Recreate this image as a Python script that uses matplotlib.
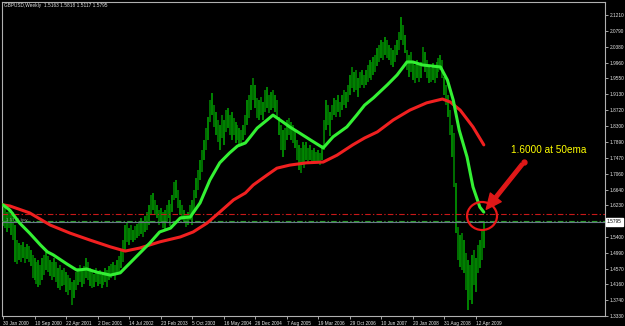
import numpy as np
import matplotlib
matplotlib.use("Agg")
import matplotlib.pyplot as plt
from matplotlib.patches import Ellipse, FancyArrowPatch
from matplotlib.transforms import blended_transform_factory

# GBPUSD weekly, Jan 2000 - mid 2009, one bar per 2 weeks
bar_high = [
    1.624, 1.618, 1.605, 1.610, 1.597, 1.605, 1.571, 1.532, 1.524, 1.519,
    1.527, 1.514, 1.522, 1.516, 1.506, 1.493, 1.485, 1.474, 1.480, 1.467,
    1.485, 1.493, 1.501, 1.490, 1.480, 1.474, 1.485, 1.474, 1.459, 1.467,
    1.453, 1.459, 1.448, 1.440, 1.432, 1.422, 1.427, 1.448, 1.459, 1.467,
    1.453, 1.464, 1.485, 1.474, 1.459, 1.453, 1.443, 1.459, 1.448, 1.453,
    1.440, 1.448, 1.459, 1.453, 1.464, 1.469, 1.474, 1.467, 1.480, 1.490,
    1.506, 1.532, 1.571, 1.579, 1.563, 1.571, 1.558, 1.568, 1.574, 1.579,
    1.589, 1.579, 1.594, 1.605, 1.624, 1.650, 1.655, 1.637, 1.624, 1.610,
    1.616, 1.605, 1.610, 1.624, 1.637, 1.626, 1.650, 1.684, 1.689, 1.663,
    1.637, 1.624, 1.610, 1.597, 1.605, 1.624, 1.637, 1.663, 1.694, 1.715,
    1.741, 1.768, 1.794, 1.825, 1.854, 1.898, 1.917, 1.885, 1.867, 1.846,
    1.833, 1.859, 1.846, 1.872, 1.877, 1.859, 1.867, 1.851, 1.841, 1.833,
    1.825, 1.820, 1.833, 1.859, 1.898, 1.912, 1.938, 1.956, 1.938, 1.903,
    1.898, 1.906, 1.893, 1.925, 1.932, 1.912, 1.919, 1.925, 1.912, 1.898,
    1.854, 1.833, 1.820, 1.825, 1.846, 1.851, 1.841, 1.833, 1.820, 1.794,
    1.781, 1.773, 1.788, 1.781, 1.788, 1.773, 1.781, 1.768, 1.773, 1.762,
    1.768, 1.760, 1.781, 1.846, 1.898, 1.885, 1.867, 1.885, 1.903, 1.898,
    1.912, 1.893, 1.912, 1.925, 1.919, 1.938, 1.964, 1.985, 1.972, 1.977,
    1.956, 1.972, 1.977, 1.964, 1.977, 1.990, 2.003, 1.998, 2.011, 2.016,
    2.034, 2.042, 2.056, 2.050, 2.063, 2.056, 2.042, 2.034, 2.029, 2.042,
    2.056, 2.076, 2.116, 2.095, 2.069, 2.029, 2.016, 2.024, 1.995, 1.990,
    2.003, 1.990, 1.998, 2.037, 2.024, 2.003, 1.990, 1.982, 1.995, 1.987,
    1.998, 2.008, 2.016, 2.003, 1.959, 1.938, 1.912, 1.872, 1.833, 1.812,
    1.681, 1.566, 1.545, 1.550, 1.532, 1.498, 1.480, 1.467, 1.493, 1.506,
    1.485, 1.519, 1.532, 1.558, 1.5818,
]
bar_low = [
    1.568, 1.563, 1.553, 1.563, 1.545, 1.532, 1.474, 1.469, 1.480, 1.474,
    1.485, 1.472, 1.482, 1.474, 1.464, 1.432, 1.427, 1.417, 1.409, 1.414,
    1.427, 1.440, 1.453, 1.448, 1.438, 1.427, 1.435, 1.422, 1.406, 1.401,
    1.412, 1.414, 1.396, 1.388, 1.401, 1.362, 1.380, 1.401, 1.414, 1.422,
    1.409, 1.417, 1.432, 1.427, 1.412, 1.406, 1.409, 1.422, 1.412, 1.417,
    1.406, 1.414, 1.422, 1.409, 1.427, 1.432, 1.438, 1.427, 1.443, 1.448,
    1.459, 1.474, 1.506, 1.527, 1.519, 1.532, 1.527, 1.532, 1.537, 1.542,
    1.548, 1.540, 1.553, 1.558, 1.571, 1.597, 1.610, 1.597, 1.589, 1.571,
    1.579, 1.563, 1.558, 1.579, 1.589, 1.568, 1.605, 1.637, 1.642, 1.616,
    1.597, 1.584, 1.579, 1.566, 1.571, 1.584, 1.571, 1.610, 1.642, 1.663,
    1.689, 1.710, 1.741, 1.768, 1.794, 1.841, 1.859, 1.828, 1.807, 1.788,
    1.768, 1.799, 1.781, 1.815, 1.825, 1.807, 1.794, 1.807, 1.786, 1.794,
    1.781, 1.786, 1.794, 1.807, 1.833, 1.851, 1.872, 1.898, 1.877, 1.851,
    1.846, 1.859, 1.846, 1.867, 1.877, 1.864, 1.872, 1.877, 1.867, 1.851,
    1.807, 1.768, 1.749, 1.768, 1.794, 1.807, 1.794, 1.786, 1.773, 1.741,
    1.715, 1.707, 1.728, 1.720, 1.741, 1.733, 1.741, 1.733, 1.736, 1.733,
    1.736, 1.728, 1.741, 1.768, 1.820, 1.833, 1.804, 1.846, 1.859, 1.854,
    1.867, 1.854, 1.872, 1.885, 1.877, 1.893, 1.912, 1.930, 1.919, 1.925,
    1.906, 1.930, 1.938, 1.930, 1.938, 1.946, 1.956, 1.951, 1.964, 1.972,
    1.987, 1.998, 2.008, 2.003, 2.016, 2.008, 2.003, 1.990, 1.985, 1.998,
    2.016, 2.029, 2.056, 2.042, 2.021, 1.977, 1.959, 1.972, 1.951, 1.943,
    1.956, 1.946, 1.956, 1.990, 1.972, 1.956, 1.943, 1.946, 1.951, 1.943,
    1.956, 1.972, 1.977, 1.956, 1.912, 1.885, 1.854, 1.807, 1.749, 1.671,
    1.550, 1.480, 1.461, 1.453, 1.446, 1.401, 1.349, 1.375, 1.364, 1.414,
    1.396, 1.446, 1.459, 1.480, 1.5117,
]
bar_week = np.arange(len(bar_high)) * 2  # weeks since 30 Jan 2000

# fast (green) and slow (red) moving averages
fast_week = [0, 7, 17, 27, 38, 45, 51, 65, 75, 85, 95, 109, 119, 129, 139, 149,
             159, 170, 180, 190, 200, 210, 220, 230, 238, 246, 251, 258, 268, 274,
             284, 291, 301, 312, 325, 335, 349, 359, 367, 376, 390, 400, 410, 416,
             426, 444, 451, 457, 463, 471, 477, 484, 488]
fast_ma = [1.624, 1.610, 1.576, 1.550, 1.519, 1.501, 1.493, 1.469, 1.453, 1.456,
           1.448, 1.440, 1.446, 1.472, 1.498, 1.524, 1.553, 1.563, 1.590, 1.592,
           1.629, 1.689, 1.734, 1.760, 1.778, 1.786, 1.802, 1.825, 1.846, 1.859,
           1.841, 1.828, 1.812, 1.794, 1.773, 1.802, 1.828, 1.859, 1.885, 1.904,
           1.938, 1.964, 1.998, 1.998, 1.990, 1.985, 1.951, 1.898, 1.820, 1.749,
           1.671, 1.618, 1.605]
slow_week = [0, 7, 27, 48, 68, 88, 109, 124, 139, 159, 180, 193, 207, 220, 234,
             246, 254, 268, 278, 291, 308, 325, 339, 355, 367, 380, 396, 413, 430,
             446, 454, 464, 477, 488]
slow_ma = [1.624, 1.621, 1.603, 1.571, 1.550, 1.532, 1.514, 1.503, 1.511, 1.527,
           1.540, 1.553, 1.576, 1.605, 1.637, 1.655, 1.676, 1.702, 1.720, 1.728,
           1.734, 1.736, 1.754, 1.781, 1.799, 1.815, 1.846, 1.872, 1.891, 1.901,
           1.893, 1.872, 1.828, 1.781]

level_1600 = 1.6000
order_level = 1.5812
bid = 1.5795

price_ticks = [2.1210, 2.0790, 2.0380, 1.9960, 1.9550, 1.9130, 1.8720, 1.8300,
               1.7890, 1.7470, 1.7060, 1.6640, 1.6230, 1.5400, 1.4990, 1.4570,
               1.4160, 1.3740, 1.3330]
date_week = [0, 32, 64, 96, 128, 160, 192, 224, 256, 288, 320, 352, 384, 416, 448, 480]
date_labels = ["30 Jan 2000", "10 Sep 2000", "22 Apr 2001", "2 Dec 2001",
               "14 Jul 2002", "23 Feb 2003", "5 Oct 2003", "16 May 2004",
               "26 Dec 2004", "7 Aug 2005", "19 Mar 2006", "29 Oct 2006",
               "10 Jun 2007", "20 Jan 2008", "31 Aug 2008", "12 Apr 2009"]

plt.rcParams['font.family'] = ['Liberation Sans', 'DejaVu Sans']

fig = plt.figure(figsize=(6.25, 3.26), dpi=100, facecolor='black')
ax = fig.add_axes([2 / 625, 10 / 326, 603 / 625, 314 / 326], facecolor='black')

# price bars
bar_colors = ['#00A800' if i % 2 == 0 else '#008C00' for i in range(len(bar_high))]
ax.vlines(bar_week, bar_low, bar_high, colors=bar_colors, linewidth=1.1, zorder=2)

# horizontal levels
ax.axhline(level_1600, color='#C81818', lw=0.8, dashes=(5, 2, 1.2, 2), zorder=2.5)
ax.axhline(bid, color='#6A7A8A', lw=0.8, zorder=2.5)
ax.axhline(order_level, color='#2E9A2E', lw=0.8, dashes=(5, 2, 1.2, 2), zorder=2.6)
ax.text(3, order_level - 0.002, "1.5795 buy", color='#9A9A9A', fontsize=3.2,
        va='bottom', ha='left', zorder=3)

# moving averages
ax.plot(slow_week, slow_ma, color='#F02020', lw=2.2, solid_capstyle='round', zorder=4)
ax.plot(fast_week, fast_ma, color='#33F033', lw=2.2, solid_capstyle='round', zorder=4.1)

ax.set_xlim(-1, 611)
ax.set_ylim(1.3330, 2.155)

# axes look (MT4 style)
for s in ax.spines.values():
    s.set_color('#B0B0B0')
    s.set_linewidth(0.8)
ax.yaxis.tick_right()
ax.set_yticks(price_ticks)
ax.set_yticklabels([f"{p:.4f}" for p in price_ticks])
ax.set_xticks(date_week)
ax.set_xticklabels(date_labels)
for lab in ax.get_xticklabels():
    lab.set_ha('left')
ax.tick_params(axis='y', direction='out', length=2, width=0.6, colors='#C0C0C0',
               labelsize=3.4, labelcolor='#E8E8E8', pad=1.5)
ax.tick_params(axis='x', direction='out', length=2, width=0.6, colors='#C0C0C0',
               labelsize=3.4, labelcolor='#E8E8E8', pad=1.5)

# current price box on the right axis
trans = blended_transform_factory(ax.transAxes, ax.transData)
ax.text(1.003, bid, f"{bid:.4f}", transform=trans, fontsize=3.4, color='black',
        ha='left', va='center', clip_on=False,
        bbox=dict(boxstyle='square,pad=0.25', fc='white', ec='white'))

# header
fig.text(4 / 625, 1 - 6 / 326, "GBPUSD,Weekly  1.5163 1.5818 1.5117 1.5795",
         color='#E0E0E0', fontsize=3.4, va='center', ha='left')

# annotation
ax.text(515.6, 1.7676, "1.6000 at 50ema", color='#FFFF00', fontsize=7.2,
        ha='left', va='center', zorder=6)
arrow = FancyArrowPatch((528.8, 1.7361), (488.7, 1.6066),
                        arrowstyle='simple,head_length=1.1,head_width=1.0,tail_width=0.25',
                        mutation_scale=10, color='#E01818', zorder=6)
ax.add_patch(arrow)
ax.plot([528.8], [1.7361], 'o', color='#E01818', ms=3.5, zorder=6)
ax.add_patch(Ellipse((486.2, 1.5948), 30.4, 0.0733, fill=False,
                     ec='#E81818', lw=1.6, zorder=6))

fig.savefig("out.png", dpi=100, facecolor='black')
